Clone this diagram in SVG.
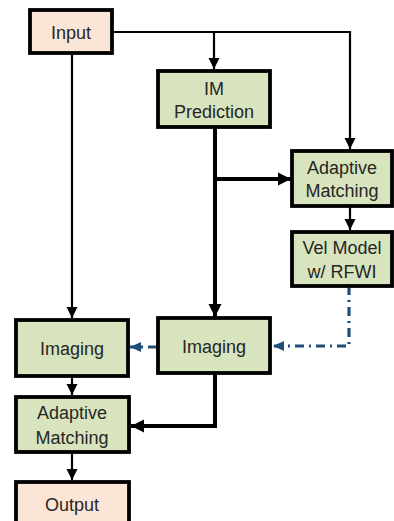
<svg xmlns="http://www.w3.org/2000/svg" width="394" height="521" viewBox="0 0 394 521">
<style>
.box{stroke:#000;stroke-width:3.8}
.peach{fill:#FBE5D6}
.green{fill:#D7E4BD}
text{font-family:"Liberation Sans",Arial,sans-serif;font-size:18px;fill:#262626;text-anchor:middle}
.thin{fill:none;stroke:#000;stroke-width:2.2}
.thick{fill:none;stroke:#000;stroke-width:4}
.blue{fill:none;stroke:#1F4E79;stroke-width:3.2;stroke-dasharray:9 5 2 5}
</style>
<defs>
<marker id="ah" markerUnits="userSpaceOnUse" markerWidth="12" markerHeight="12" refX="11" refY="6" orient="auto"><path d="M0,0.5 L11,6 L0,11.5 Z" fill="#000"/></marker>
<marker id="ahk" markerUnits="userSpaceOnUse" markerWidth="14" markerHeight="14" refX="13" refY="7" orient="auto"><path d="M0,0.5 L13,7 L0,13.5 Z" fill="#000"/></marker>
<marker id="ahb" markerUnits="userSpaceOnUse" markerWidth="12" markerHeight="12" refX="11" refY="6" orient="auto"><path d="M0,1 L11,6 L0,11 Z" fill="#1F4E79"/></marker>
</defs>
<g id="connectors">
<path class="thin" d="M112,32 H350 V149" marker-end="url(#ah)"/>
<path class="thin" d="M214,32 V69" marker-end="url(#ah)"/>
<path class="thin" d="M72,53 V318" marker-end="url(#ah)"/>
<path class="thick" d="M215,127 V317" marker-end="url(#ahk)"/>
<path class="thick" d="M215,179 H291" marker-end="url(#ahk)"/>
<path class="thin" d="M350,206 V230" marker-end="url(#ah)"/>
<path class="blue" d="M349,286 V346 H273" marker-end="url(#ahb)"/>
<path class="blue" d="M157,347 H130" marker-end="url(#ahb)"/>
<path class="thin" d="M72,376 V395" marker-end="url(#ah)"/>
<path class="thick" d="M215,373 V426 H131" marker-end="url(#ahk)"/>
<path class="thin" d="M72,452 V480" marker-end="url(#ah)"/>
</g>
<g id="input"><rect class="box peach" x="30" y="10" width="82" height="43"/><text x="71" y="39">Input</text></g>
<g id="im-prediction"><rect class="box green" x="158" y="71" width="112" height="56"/><text x="214" y="95">IM</text><text x="214" y="118">Prediction</text></g>
<g id="adaptive-matching-1"><rect class="box green" x="292" y="151" width="100" height="55"/><text x="342" y="174">Adaptive</text><text x="342" y="197">Matching</text></g>
<g id="vel-model"><rect class="box green" x="292" y="232" width="100" height="54"/><text x="342" y="254">Vel Model</text><text x="342" y="278">w/ RFWI</text></g>
<g id="imaging-2"><rect class="box green" x="158" y="318" width="112" height="55"/><text x="214" y="353">Imaging</text></g>
<g id="imaging-1"><rect class="box green" x="16" y="320" width="112" height="56"/><text x="72" y="355">Imaging</text></g>
<g id="adaptive-matching-2"><rect class="box green" x="16" y="397" width="113" height="55"/><text x="72" y="419">Adaptive</text><text x="72" y="444">Matching</text></g>
<g id="output"><rect class="box peach" x="16" y="482" width="113" height="45"/><text x="72" y="511">Output</text></g>
</svg>
